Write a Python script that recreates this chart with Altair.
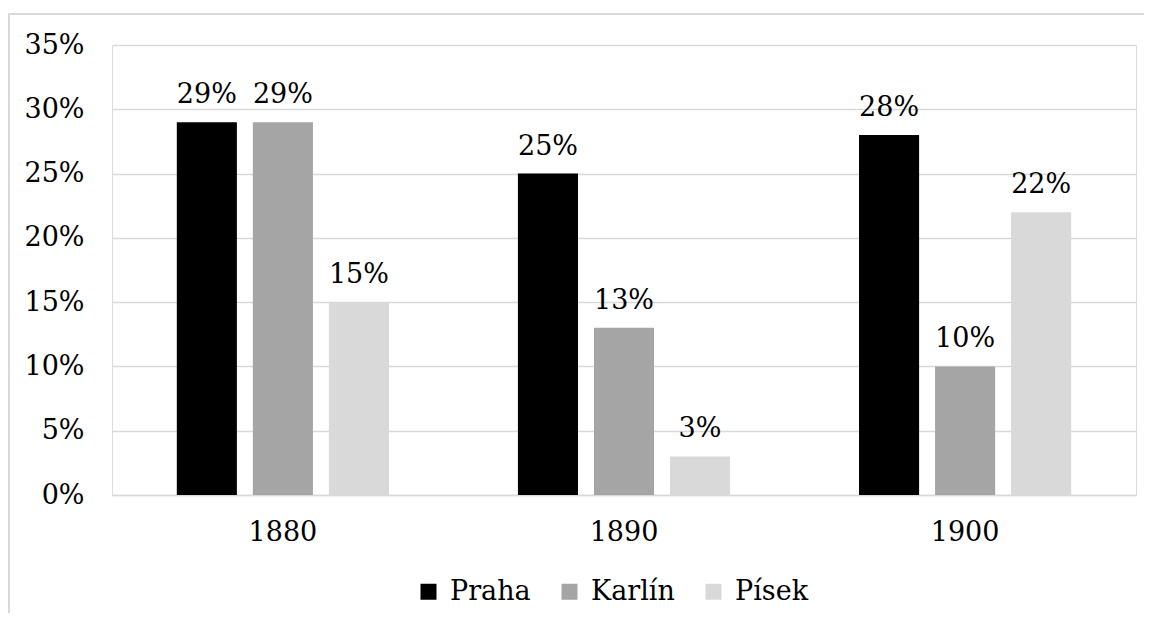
import altair as alt
import pandas as pd

years = ["1880", "1890", "1900"]
series = ["Praha", "Karlín", "Písek"]
praha = [0.29, 0.25, 0.28]
karlin = [0.29, 0.13, 0.10]
pisek = [0.15, 0.03, 0.22]
colors = ["#000000", "#a5a5a5", "#d9d9d9"]

rows = []
for i, y in enumerate(years):
    for s, vals in zip(series, [praha, karlin, pisek]):
        rows.append({"year": y, "series": s, "value": vals[i]})
df = pd.DataFrame(rows)

FONT = "DejaVu Serif"
FS = 27

x = alt.X("year:N", sort=years, title=None,
          scale=alt.Scale(paddingInner=0.378, paddingOuter=0.19),
          axis=alt.Axis(labelAngle=0, labelFontSize=FS, labelFont=FONT, labelColor="#000000",
                        ticks=False, domainColor="#d9d9d9", domainWidth=1.5, labelPadding=24))
xo = alt.XOffset("series:N", sort=series,
                 scale=alt.Scale(paddingInner=0.21, paddingOuter=0))
y = alt.Y("value:Q", title=None,
          scale=alt.Scale(domain=[0, 0.35], nice=False),
          axis=alt.Axis(format=".0%", values=[0, 0.05, 0.1, 0.15, 0.2, 0.25, 0.3, 0.35],
                        labelFontSize=FS, labelFont=FONT, labelColor="#000000",
                        ticks=False, domain=False, labelPadding=28,
                        gridColor="#d9d9d9", gridWidth=1.5))

base = alt.Chart(df)
bars = base.mark_bar().encode(
    x=x, xOffset=xo, y=y,
    color=alt.Color("series:N", sort=series, title=None,
                    scale=alt.Scale(domain=series, range=colors),
                    legend=alt.Legend(orient="none", direction="horizontal",
                                      legendX=303, legendY=533,
                                      symbolType="square", symbolSize=256,
                                      symbolStrokeWidth=0,
                                      labelFontSize=FS, labelFont=FONT, labelColor="#000000",
                                      labelOffset=8, columnPadding=25)),
)
labels = base.mark_text(baseline="alphabetic", dy=-19, fontSize=FS, font=FONT,
                        color="#000000").encode(
    x=x, xOffset=xo, y=y,
    text=alt.Text("value:Q", format=".0%"),
)

frame = alt.Chart(pd.DataFrame({"a": [0]})).mark_rect(
    fill=None, stroke="#d9d9d9", strokeWidth=2
).encode(x=alt.value(-103), x2=alt.value(1200), y=alt.value(-31), y2=alt.value(700))

chart = alt.layer(frame, bars, labels).properties(
    width=1024, height=450,
    autosize=alt.AutoSizeParams(type="none"),
    padding={"left": 104, "top": 37, "right": 8, "bottom": 118},
).configure_view(stroke=None).configure(background="#ffffff", font=FONT)

chart.save("out.html", embed_options={"renderer": "svg", "actions": False})
